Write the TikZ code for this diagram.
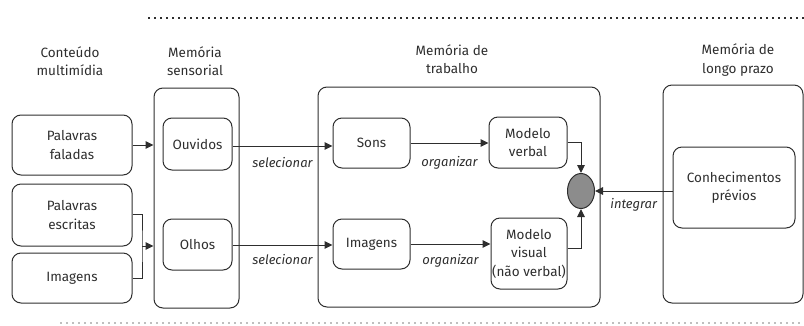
\documentclass[tikz,border=0pt]{standalone}
\usepackage{fontspec}
\setmainfont{Fira Sans}
\usetikzlibrary{arrows.meta,shapes.geometric}
\definecolor{ink}{HTML}{2E2E2E}
\definecolor{blob}{HTML}{8C8C8C}
\begin{document}
\begin{tikzpicture}[x=1pt,y=-1pt,
  every node/.style={font=\fontsize{13.5}{18.5}\selectfont, text=ink, align=center, inner sep=0pt},
  rbox/.style={draw=ink, line width=1pt, rounded corners=9pt},
  heading/.style={align=center},
  verb/.style={font=\fontsize{13}{18.5}\selectfont\itshape},
  link/.style={draw=ink, line width=1pt},
  flow/.style={link, -{Triangle[length=8pt,width=7.5pt]}},
  dots/.style={line width=2.2pt, dash pattern=on 2.2pt off 3.8pt}
]
\useasboundingbox (0,0) rectangle (804,325);

% separators
\draw[dots, draw=ink] (148,18) -- (804,18);
\draw[dots, draw=black!25] (60,323) -- (804,323);

% column headings
\node[heading] (h1) at (70,61) {Conteúdo\\multimídia};
\node[heading] (h2) at (195,61) {Memória\\sensorial};
\node[heading] (h3) at (452,59) {Memória de\\trabalho};
\node[heading] (h4) at (738,60) {Memória de\\longo prazo};

% multimedia content
\node[rbox, minimum width=120pt, minimum height=60pt] (pf) at (72,145) {Palavras\\faladas};
\node[rbox, minimum width=120pt, minimum height=62pt] (pe) at (72,215) {Palavras\\escritas};
\node[rbox, minimum width=120pt, minimum height=50pt] (im1) at (72,278) {Imagens};

% sensory memory
\node[rbox, minimum width=85pt, minimum height=220pt] (sens) at (196.5,198) {};
\node[rbox, minimum width=69pt, minimum height=52pt] (ouv) at (197.5,144) {Ouvidos};
\node[rbox, minimum width=69pt, minimum height=51pt] (olh) at (197.5,244.5) {Olhos};

% working memory
\node[rbox, minimum width=282pt, minimum height=220pt] (wm) at (459,197) {};
\node[rbox, minimum width=77pt, minimum height=50pt] (sons) at (371.5,143) {Sons};
\node[rbox, minimum width=78pt, minimum height=51pt] (mv) at (528,142.5) {Modelo\\verbal};
\node[rbox, minimum width=77pt, minimum height=50pt] (img) at (371.5,244) {Imagens};
\node[rbox, minimum width=76pt, minimum height=71pt] (mvis) at (529,253.5) {Modelo\\visual\\(não verbal)};
\node[draw=ink, line width=1pt, fill=blob, ellipse, minimum width=27pt, minimum height=35pt] (mix) at (581,191) {};

% long-term memory
\node[rbox, minimum width=140pt, minimum height=218pt] (lt) at (733,194) {};
\node[rbox, minimum width=122pt, minimum height=81pt] (cp) at (734,187.5) {Conhecimentos\\prévios};

% connectors
\draw[flow] (pf.east) -- (pf.east -| sens.west);
\coordinate (j) at (142,246);
\draw[link] (pe.east |- 0,214) -| (j) |- (im1.east |- 0,278);
\draw[flow] (j) -- (j -| sens.west);

\draw[flow] (ouv.east |- 0,146) -- node[verb, below=11pt] (s1) {selecionar} (sons.west |- 0,146);
\draw[flow] (olh.east |- 0,245) -- node[verb, below=9pt] (s2) {selecionar} (img.west |- 0,245);

\draw[flow] (sons.east) -- node[verb, below=13pt] (o1) {organizar} (sons.east -| mv.west);
\draw[flow] (img.east) -- node[verb, below=10pt] (o2) {organizar} (img.east -| mvis.west);

\draw[flow] (mv.east) -| (mix.north);
\draw[flow] (mvis.east |- 0,248) -| (mix.south);
\draw[flow] (cp.west |- mix) -- node[verb, below=7pt] (ig) {integrar} (mix.east);
\end{tikzpicture}
\end{document}
